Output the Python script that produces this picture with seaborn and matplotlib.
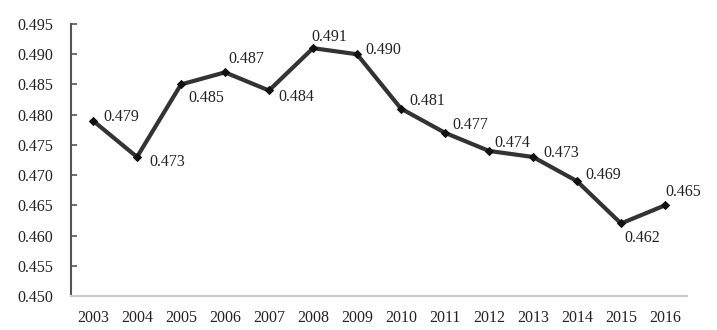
import matplotlib
matplotlib.use("Agg")
import matplotlib.pyplot as plt
import seaborn as sns
import pandas as pd

years = [2003, 2004, 2005, 2006, 2007, 2008, 2009, 2010, 2011, 2012, 2013, 2014, 2015, 2016]
values = [0.479, 0.473, 0.485, 0.487, 0.484, 0.491, 0.490, 0.481, 0.477, 0.474, 0.473, 0.469, 0.462, 0.465]
labels = ["0.479", "0.473", "0.485", "0.487", "0.484", "0.491", "0.490", "0.481",
          "0.477", "0.474", "0.473", "0.469", "0.462", "0.465"]
yticks = [0.450, 0.455, 0.460, 0.465, 0.470, 0.475, 0.480, 0.485, 0.490, 0.495]

# label offsets in pixels (dx, dy)
offsets = [(10, 4), (12, -5), (7, -14), (3, 13), (9, -7), (-2, 11), (8, 4), (8, 8),
           (7, 8), (5, 8), (10, 4), (8, 6), (3, -15), (0, 13)]

sns.set_style("white")
plt.rcParams['font.family'] = ['Liberation Serif', 'DejaVu Serif']

df = pd.DataFrame({"year": years, "value": values})

fig = plt.figure(figsize=(7.17, 3.30), dpi=100)
ax = fig.add_axes([71/717, 34/330, (687-71)/717, (296-24)/330])

sns.lineplot(data=df, x="year", y="value", ax=ax, color="#333333", linewidth=3.0,
             marker="D", markersize=4, markerfacecolor="#111111", markeredgecolor="#111111")

for x, y, t, (dx, dy) in zip(years, values, labels, offsets):
    ax.annotate(t, (x, y), xytext=(dx, dy), textcoords="offset pixels",
                ha="left", va="center", fontsize=11.5, color="#222222")

ax.set_xlim(2002.5, 2016.5)
ax.set_ylim(0.450, 0.495)
ax.set_xticks(years)
ax.set_xticklabels([str(y) for y in years])
ax.set_yticks(yticks)
ax.set_yticklabels([f"{v:.3f}" for v in yticks])
ax.set_xlabel("")
ax.set_ylabel("")

for s in ["top", "right"]:
    ax.spines[s].set_visible(False)
ax.spines["left"].set_color("#555555")
ax.spines["left"].set_linewidth(1.5)
ax.spines["bottom"].set_color("#cccccc")
ax.spines["bottom"].set_linewidth(1.5)

ax.tick_params(axis="y", direction="in", length=4, width=1.2, color="#555555",
               pad=13, labelsize=11.5, labelcolor="#222222", left=True)
ax.tick_params(axis="x", length=0, pad=10, labelsize=11.5, labelcolor="#222222")

fig.savefig("out.png", dpi=100)
